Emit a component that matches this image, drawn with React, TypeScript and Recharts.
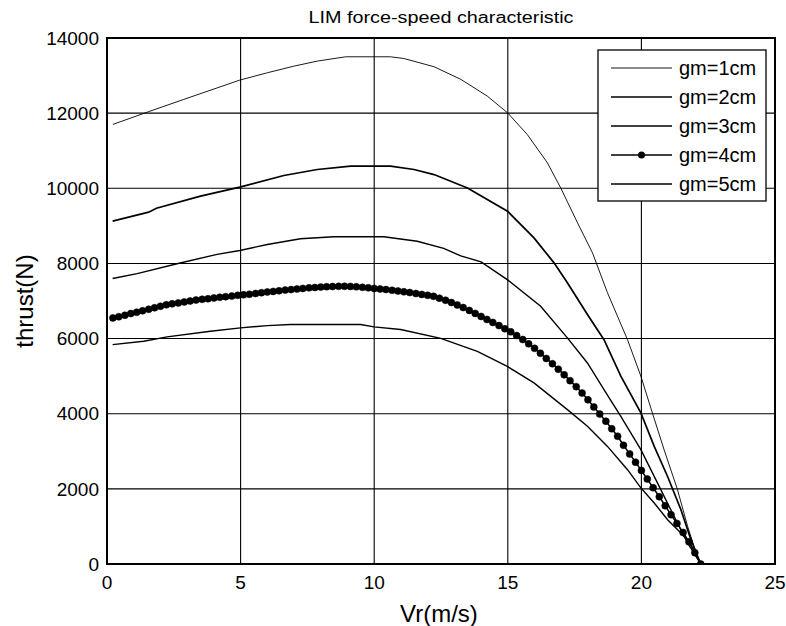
import React from 'react';
import { LineChart, Line, XAxis, YAxis, CartesianGrid, ReferenceArea } from 'recharts';

const TITLE = 'LIM force-speed characteristic';
const X_LABEL = 'Vr(m/s)';
const Y_LABEL = 'thrust(N)';
const seriesNames = ['gm=1cm', 'gm=2cm', 'gm=3cm', 'gm=4cm', 'gm=5cm'];
const xTicks = [0, 5, 10, 15, 20, 25];
const yTicks = [0, 2000, 4000, 6000, 8000, 10000, 12000, 14000];

const gm1X = [0.22, 1.56, 2.87, 4.97, 6.0, 6.99, 7.87, 8.93, 10.61, 11.11, 12.24, 13.24, 14.24, 14.99, 15.73, 16.48, 16.98, 17.61, 18.17, 18.73, 19.48, 19.98, 20.42, 20.85, 21.35, 21.73, 21.97, 22.22];
const gm1Y = [11700, 12040, 12365, 12880, 13075, 13250, 13385, 13500, 13500, 13455, 13235, 12900, 12450, 12010, 11430, 10680, 10010, 9080, 8280, 7220, 5970, 5000, 4000, 3040, 1980, 1000, 470, 0];

const gm2X = [0.21, 1.56, 1.85, 3.5, 4.97, 6.62, 7.87, 9.12, 10.61, 11.49, 12.24, 13.49, 14.99, 15.98, 16.73, 17.23, 17.98, 18.6, 19.23, 19.98, 20.48, 20.98, 21.48, 21.85, 22.22];
const gm2Y = [9125, 9365, 9470, 9790, 10030, 10340, 10500, 10590, 10590, 10500, 10365, 10010, 9390, 8680, 8015, 7485, 6640, 5970, 5000, 4020, 3130, 2330, 1445, 650, 0];

const gm3X = [0.21, 1.13, 2.62, 4.12, 4.97, 6.0, 7.24, 8.49, 10.36, 11.61, 12.6, 13.24, 14.0, 14.98, 16.23, 17.23, 17.98, 18.6, 19.23, 19.98, 20.6, 21.22, 21.73, 22.22];
const gm3Y = [7600, 7730, 7990, 8240, 8345, 8505, 8655, 8710, 8710, 8590, 8400, 8200, 8040, 7570, 6860, 6020, 5350, 4640, 3930, 3045, 2160, 1270, 560, 0];

const gm4X = [
  0.22, 0.44, 0.67, 0.89, 1.11, 1.33, 1.56, 1.78, 2.0, 2.22,
  2.44, 2.67, 2.89, 3.11, 3.33, 3.56, 3.78, 4.0, 4.22, 4.44,
  4.67, 4.89, 5.11, 5.33, 5.56, 5.78, 6.0, 6.22, 6.44, 6.67,
  6.89, 7.11, 7.33, 7.56, 7.78, 8.0, 8.22, 8.44, 8.67, 8.89,
  9.11, 9.33, 9.56, 9.78, 10.0, 10.22, 10.44, 10.67, 10.89, 11.11,
  11.33, 11.56, 11.78, 12.0, 12.22, 12.44, 12.67, 12.89, 13.11, 13.33,
  13.56, 13.78, 14.0, 14.22, 14.44, 14.67, 14.89, 15.11, 15.33, 15.56,
  15.78, 16.0, 16.22, 16.44, 16.67, 16.89, 17.11, 17.33, 17.56, 17.78,
  18.0, 18.22, 18.44, 18.67, 18.89, 19.11, 19.33, 19.56, 19.78, 20.0,
  20.22, 20.44, 20.67, 20.89, 21.11, 21.33, 21.56, 21.78, 22.0, 22.22,
];
const gm4Y = [
  6550, 6580, 6620, 6665, 6700, 6740, 6780, 6820, 6860, 6900,
  6925, 6950, 6975, 7000, 7025, 7045, 7060, 7080, 7100, 7115,
  7130, 7150, 7165, 7180, 7200, 7220, 7240, 7255, 7270, 7290,
  7305, 7320, 7335, 7350, 7360, 7370, 7380, 7385, 7390, 7392,
  7388, 7378, 7365, 7350, 7335, 7320, 7305, 7285, 7265, 7245,
  7225, 7200, 7175, 7150, 7125, 7075, 7020, 6960, 6895, 6825,
  6750, 6670, 6590, 6510, 6430, 6345, 6260, 6180, 6080, 5975,
  5860, 5740, 5610, 5470, 5330, 5185, 5035, 4880, 4720, 4550,
  4370, 4180, 3990, 3800, 3600, 3400, 3160, 2930, 2710, 2490,
  2260, 2030, 1790, 1550, 1310, 1080, 840, 590, 300, 0,
];

const gm5X = [0.21, 1.37, 2.25, 3.87, 5.0, 6.0, 6.87, 9.49, 9.99, 10.99, 12.49, 13.86, 14.98, 15.98, 17.23, 17.98, 18.73, 19.48, 19.98, 20.48, 20.98, 21.48, 21.85, 22.22];
const gm5Y = [5840, 5930, 6045, 6195, 6285, 6345, 6375, 6375, 6310, 6240, 6005, 5660, 5260, 4820, 4110, 3665, 3130, 2510, 2025, 1625, 1180, 825, 515, 0];

const toData = (xs: number[], ys: number[]) => xs.map((x, i) => ({ x, y: ys[i] }));

const series = [
  { name: seriesNames[0], data: toData(gm1X, gm1Y), width: 0.9, dot: false },
  { name: seriesNames[1], data: toData(gm2X, gm2Y), width: 1.7, dot: false },
  { name: seriesNames[2], data: toData(gm3X, gm3Y), width: 1.4, dot: false },
  { name: seriesNames[3], data: toData(gm4X, gm4Y), width: 1.5, dot: true },
  { name: seriesNames[4], data: toData(gm5X, gm5Y), width: 1.4, dot: false },
];

const FONT = '"Liberation Sans", Arial, Helvetica, sans-serif';

export default function App() {
  return (
    <div style={{ position: 'absolute', left: 0, top: 0, width: 786, height: 626, background: '#fff', fontFamily: FONT }}>
      <LineChart width={786} height={626} margin={{ top: 38, right: 11, bottom: 0, left: 0 }} style={{ fontFamily: FONT }}>
        <CartesianGrid stroke="#000" strokeWidth={1.1} />
        <XAxis
          dataKey="x"
          type="number"
          domain={[0, 25]}
          ticks={xTicks}
          height={62}
          tickLine={false}
          axisLine={false}
          tickMargin={6}
          tick={{ fill: '#000', fontSize: 19 }}
          allowDataOverflow
        />
        <YAxis
          dataKey="y"
          type="number"
          domain={[0, 14000]}
          ticks={yTicks}
          width={107}
          tickLine={false}
          axisLine={false}
          tick={{ fill: '#000', fontSize: 19 }}
          allowDataOverflow
        />
        <ReferenceArea x1={0} x2={25} y1={0} y2={14000} fill="none" fillOpacity={0} stroke="#000" strokeWidth={2} />
        {series.map((s) => (
          <Line
            key={s.name}
            name={s.name}
            data={s.data}
            dataKey="y"
            type="linear"
            stroke="#000"
            strokeWidth={s.width}
            dot={s.dot ? { r: 3.5, fill: '#000', stroke: '#000', strokeWidth: 0.5 } : false}
            activeDot={false}
            isAnimationActive={false}
          />
        ))}
      </LineChart>
      <svg width={786} height={626} style={{ position: 'absolute', left: 0, top: 0, pointerEvents: 'none', fontFamily: FONT }}>
        <text x={441} y={23} textAnchor="middle" fontSize={16} fill="#000" textLength={265} lengthAdjust="spacingAndGlyphs">
          {TITLE}
        </text>
        <text x={439} y={622} textAnchor="middle" fontSize={24} fill="#000">
          {X_LABEL}
        </text>
        <text transform="translate(33,301) rotate(-90)" textAnchor="middle" fontSize={24} fill="#000">
          {Y_LABEL}
        </text>
        <g>
          <rect x={598} y={50} width={168} height={151} fill="#fff" stroke="#000" strokeWidth={1.3} />
          {series.map((s, i) => {
            const cy = 68 + i * 29;
            return (
              <g key={s.name}>
                <line x1={611} x2={672} y1={cy} y2={cy} stroke="#000" strokeWidth={s.width} />
                {s.dot ? <circle cx={641.5} cy={cy} r={3.5} fill="#000" /> : null}
                <text x={679} y={cy + 7} fontSize={20} fill="#000">
                  {s.name}
                </text>
              </g>
            );
          })}
        </g>
      </svg>
    </div>
  );
}
